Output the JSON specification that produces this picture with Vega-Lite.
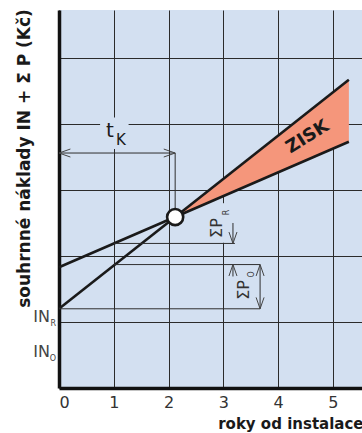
{
  "$schema": "https://vega.github.io/schema/vega-lite/v6.json",
  "width": 303,
  "height": 378,
  "autosize": {"type": "none"},
  "padding": {"left": 59, "top": 10, "right": 0, "bottom": 45},
  "background": "white",
  "view": {"fill": "#d3e0f1", "stroke": null},
  "config": {
    "font": "DejaVu Sans",
    "axis": {"grid": true, "gridColor": "#2b2b2b", "gridWidth": 1, "gridOpacity": 1, "ticks": false, "domainColor": "#111111", "domainWidth": 3.5}
  },
  "datasets": {
    "lines": [
      {"series": "R", "year": 0, "cost": 1.2},
      {"series": "R", "year": 5.29, "cost": 4.67},
      {"series": "O", "year": 0, "cost": 1.83},
      {"series": "O", "year": 5.29, "cost": 3.73}
    ],
    "profit": [
      {"year": 2.12, "upper": 2.59, "lower": 2.59},
      {"year": 5.29, "upper": 4.67, "lower": 3.73}
    ],
    "segments": [
      {"year": 0, "cost": 3.56, "year2": 2.12, "cost2": 3.56},
      {"year": 2.12, "cost": 3.56, "year2": 2.12, "cost2": 2.59},
      {"year": 0, "cost": 1.2, "year2": 3.67, "cost2": 1.2},
      {"year": 1, "cost": 1.87, "year2": 3.67, "cost2": 1.87},
      {"year": 1, "cost": 2.19, "year2": 3.21, "cost2": 2.19},
      {"year": 3.67, "cost": 1.2, "year2": 3.67, "cost2": 1.87},
      {"year": 3.175, "cost": 1.87, "year2": 3.175, "cost2": 1.69},
      {"year": 3.175, "cost": 2.19, "year2": 3.175, "cost2": 2.5}
    ],
    "tips": [
      {"year": 0, "cost": 3.56, "dir": "left"},
      {"year": 2.12, "cost": 3.56, "dir": "right"},
      {"year": 3.67, "cost": 1.87, "dir": "up"},
      {"year": 3.67, "cost": 1.2, "dir": "down"},
      {"year": 3.175, "cost": 1.87, "dir": "up"},
      {"year": 3.175, "cost": 2.19, "dir": "down"}
    ],
    "halos": [
      {"year": 0.75, "cost": 3.62, "year2": 1.27, "cost2": 4.1},
      {"year": 2.755, "cost": 2.2, "year2": 3.12, "cost2": 2.8}
    ],
    "crossing": [{"year": 2.12, "cost": 2.59}]
  },
  "layer": [
    {
      "data": {"name": "profit"},
      "mark": {"type": "area", "color": "#f5967b", "opacity": 1},
      "encoding": {
        "x": {"field": "year", "type": "quantitative",
          "scale": {"domain": [0, 5.53], "nice": false, "zero": false},
          "axis": {"values": [0, 1, 2, 3, 4, 5], "format": "d", "title": "roky od instalace",
            "labelFontSize": 16, "labelColor": "#333333", "labelPadding": 6, "labelFont": "DejaVu Sans",
            "titleFontSize": 15, "titleFontWeight": "bold", "titleColor": "#1a1a1a",
            "titleX": 304, "titleY": 35, "titleAlign": "right", "titleBaseline": "middle", "titleAnchor": null}},
        "y": {"field": "upper", "type": "quantitative",
          "scale": {"domain": [0, 5.727], "nice": false, "zero": false},
          "axis": {"values": [1, 2, 3, 4, 5], "labels": false, "title": "souhrnné náklady IN + Σ P (Kč)",
            "titleFontSize": 17, "titleFontWeight": "bold", "titleColor": "#1a1a1a", "titleAngle": 270,
            "titleX": -35, "titleY": 148, "titleAlign": "center", "titleBaseline": "middle", "titleAnchor": null}},
        "y2": {"field": "lower"}
      }
    },
    {
      "data": {"name": "halos"},
      "mark": {"type": "rect", "color": "#d3e0f1", "opacity": 1},
      "encoding": {
        "x": {"field": "year", "type": "quantitative"},
        "y": {"field": "cost", "type": "quantitative"},
        "x2": {"field": "year2"},
        "y2": {"field": "cost2"}
      }
    },
    {
      "data": {"name": "lines"},
      "mark": {"type": "line", "color": "#1a1a1a", "strokeWidth": 2.6},
      "encoding": {
        "x": {"field": "year", "type": "quantitative"},
        "y": {"field": "cost", "type": "quantitative"},
        "detail": {"field": "series"}
      }
    },
    {
      "data": {"name": "segments"},
      "mark": {"type": "rule", "color": "#2e2e2e", "strokeWidth": 1},
      "encoding": {
        "x": {"field": "year", "type": "quantitative"},
        "y": {"field": "cost", "type": "quantitative"},
        "x2": {"field": "year2"},
        "y2": {"field": "cost2"}
      }
    },
    {
      "data": {"name": "tips"},
      "mark": {"type": "point", "filled": false, "color": "#444444", "strokeWidth": 1, "size": 130, "opacity": 1},
      "encoding": {
        "x": {"field": "year", "type": "quantitative"},
        "y": {"field": "cost", "type": "quantitative"},
        "shape": {"field": "dir", "type": "nominal", "legend": null,
          "scale": {"domain": ["left", "right", "up", "down"],
            "range": ["M2,-0.7L0,0L2,0.7", "M-2,-0.7L0,0L-2,0.7", "M-0.7,2L0,0L0.7,2", "M-0.7,-2L0,0L0.7,-2"]}}
      }
    },
    {
      "data": {"name": "crossing"},
      "mark": {"type": "point", "filled": true, "fill": "white", "stroke": "#1a1a1a", "strokeWidth": 2.6, "size": 260, "opacity": 1},
      "encoding": {
        "x": {"field": "year", "type": "quantitative"},
        "y": {"field": "cost", "type": "quantitative"}
      }
    },
    {
      "data": {"values": [{"year": 4.54, "cost": 3.8, "label": "ZISK"}]},
      "mark": {"type": "text", "fontSize": 18, "fontWeight": "bold", "color": "#1a1a1a", "angle": 328, "align": "center", "baseline": "middle"},
      "encoding": {
        "x": {"field": "year", "type": "quantitative"},
        "y": {"field": "cost", "type": "quantitative"},
        "text": {"field": "label"}
      }
    },
    {
      "data": {"values": [{"year": 0.93, "cost": 3.89, "label": "t"}]},
      "mark": {"type": "text", "fontSize": 20, "color": "#1a1a1a", "align": "center", "baseline": "middle"},
      "encoding": {
        "x": {"field": "year", "type": "quantitative"},
        "y": {"field": "cost", "type": "quantitative"},
        "text": {"field": "label"}
      }
    },
    {
      "data": {"values": [{"year": 1.13, "cost": 3.76, "label": "K"}]},
      "mark": {"type": "text", "fontSize": 15, "color": "#1a1a1a", "align": "center", "baseline": "middle"},
      "encoding": {
        "x": {"field": "year", "type": "quantitative"},
        "y": {"field": "cost", "type": "quantitative"},
        "text": {"field": "label"}
      }
    },
    {
      "data": {"values": [{"year": 0, "cost": 1.076, "label": "IN"}, {"year": 0, "cost": 0.545, "label": "IN"}]},
      "mark": {"type": "text", "fontSize": 16, "color": "#444444", "align": "right", "baseline": "middle", "dx": -9},
      "encoding": {
        "x": {"field": "year", "type": "quantitative"},
        "y": {"field": "cost", "type": "quantitative"},
        "text": {"field": "label"}
      }
    },
    {
      "data": {"values": [{"year": 0, "cost": 0.97, "label": "R"}, {"year": 0, "cost": 0.44, "label": "O"}]},
      "mark": {"type": "text", "fontSize": 8, "color": "#444444", "align": "right", "baseline": "middle", "dx": -3},
      "encoding": {
        "x": {"field": "year", "type": "quantitative"},
        "y": {"field": "cost", "type": "quantitative"},
        "text": {"field": "label"}
      }
    },
    {
      "data": {"values": [{"year": 2.883, "cost": 2.424, "label": "ΣP"}, {"year": 3.376, "cost": 1.485, "label": "ΣP"}]},
      "mark": {"type": "text", "fontSize": 16, "color": "#333333", "angle": 270, "align": "center", "baseline": "middle"},
      "encoding": {
        "x": {"field": "year", "type": "quantitative"},
        "y": {"field": "cost", "type": "quantitative"},
        "text": {"field": "label"}
      }
    },
    {
      "data": {"values": [{"year": 3.06, "cost": 2.66, "label": "R"}, {"year": 3.53, "cost": 1.72, "label": "O"}]},
      "mark": {"type": "text", "fontSize": 8, "color": "#333333", "angle": 270, "align": "center", "baseline": "middle"},
      "encoding": {
        "x": {"field": "year", "type": "quantitative"},
        "y": {"field": "cost", "type": "quantitative"},
        "text": {"field": "label"}
      }
    }
  ]
}
